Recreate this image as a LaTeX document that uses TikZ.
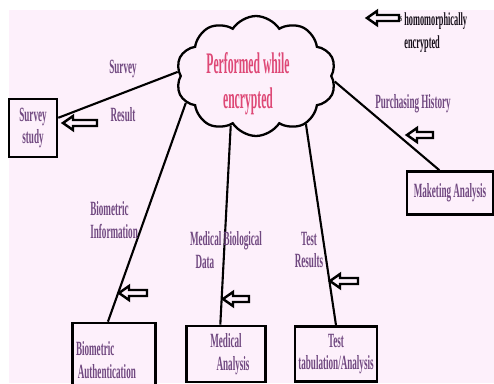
\documentclass[tikz,border=0pt]{standalone}
\usepackage{fontspec}
\usetikzlibrary{shapes.symbols}
\newfontfamily\thinfont[FakeStretch=0.45]{Liberation Serif}
\newfontfamily\cloudfont[FakeStretch=0.39]{Liberation Serif}
\definecolor{bgpink}{RGB}{253,240,251}
\definecolor{lblpurple}{RGB}{112,72,128}
\definecolor{cloudred}{RGB}{222,72,118}
\tikzset{
  lbl/.style={text=lblpurple, font=\thinfont\bfseries\fontsize{11.5}{13}\selectfont, align=center, inner sep=0pt},
  box/.style={draw, line width=1.5pt, fill=bgpink, text=lblpurple, font=\thinfont\bfseries\fontsize{11.5}{13}\selectfont, align=center, inner sep=1pt},
  link/.style={line width=1.2pt},
  hollowarr/.style={draw, line width=1.4pt, fill=bgpink, line join=miter}
}
% hollow left arrow centred at (#1,#2), length #3
\newcommand{\harrow}[3]{\draw[hollowarr] (#1,#2) ++(-#3/2,0) -- ++(10,-7) -- ++(0,4) -- ++(#3-10,0) -- ++(0,6) -- ++(-#3+10,0) -- ++(0,4) -- cycle;}
\begin{document}
\begin{tikzpicture}[x=0.02cm,y=-0.02cm]
\useasboundingbox (0,0) rectangle (494,383);
\fill[bgpink] (9,10) rectangle (494,383);

% Cloud
\node[cloud, draw, line width=1.3pt, fill=bgpink, cloud puffs=10, cloud puff arc=115, aspect=1.35, minimum width=3.2cm, minimum height=2.4cm, inner sep=0pt] (cloud) at (256,76) {};
\node[text=cloudred, font=\cloudfont\bfseries\fontsize{17}{20}\selectfont, align=center] (cloudtxt) at (248,84) {Performed while\\encrypted};

% Boxes
\node[box, minimum width=0.96cm, minimum height=1.16cm] (survey) at (33,128) {Survey\\study};
\node[box, minimum width=1.72cm, minimum height=0.86cm] (market) at (450,193) {Maketing Analysis};
\node[box, text width=1.52cm, minimum height=1.48cm, align=left, inner xsep=2pt] (bio) at (114,360) {Biometric\\\hspace*{1pt}Authentication};
\node[box, minimum width=1.58cm, minimum height=1.12cm] (med) at (226,354) {Medical\\\hspace*{8pt}Analysis};
\node[box, minimum width=1.64cm, minimum height=1.1cm] (test) at (336,354) {Test\\tabulation/Analysis};

% Links
\draw[link] (survey.22) -- (cloud.177);
\draw[link] (bio.99) -- (cloud.201);
\draw[link] (med.101) -- (cloud.243);
\draw[link] (test.north) -- (cloud.316);
\draw[link] (market.115) -- (cloud.356);

% Labels
\node[lbl] (lsurvey) at (123,69) {Survey};
\node[lbl] (lresult) at (123,115) {Result};
\node[lbl] (lpurch) at (413,104) {Purchasing History};
\node[lbl, align=left, anchor=west] (lbio) at (90,220) {Biometric\\Information};
\node[lbl] (lmed) at (226,250) {Medical Biological\\Data\hspace*{24pt}};
\node[lbl] (ltest) at (309,250) {Test\\Results};

% Arrows
\harrow{80}{123}{34}
\harrow{420}{135}{26}
\harrow{133}{293}{28}
\harrow{236}{299}{26}
\harrow{344}{281}{28}

% Legend
\harrow{383}{18}{32}
\node[lbl, font=\thinfont\bfseries\fontsize{6}{6}\selectfont, text=black] (skey) at (401,19) {s};
\node[lbl, align=left, anchor=west, font=\thinfont\bfseries\fontsize{10.5}{13}\selectfont, text=black!80!lblpurple] (lkey) at (404,33) {homomorphically\\encrypted};
\end{tikzpicture}
\end{document}
